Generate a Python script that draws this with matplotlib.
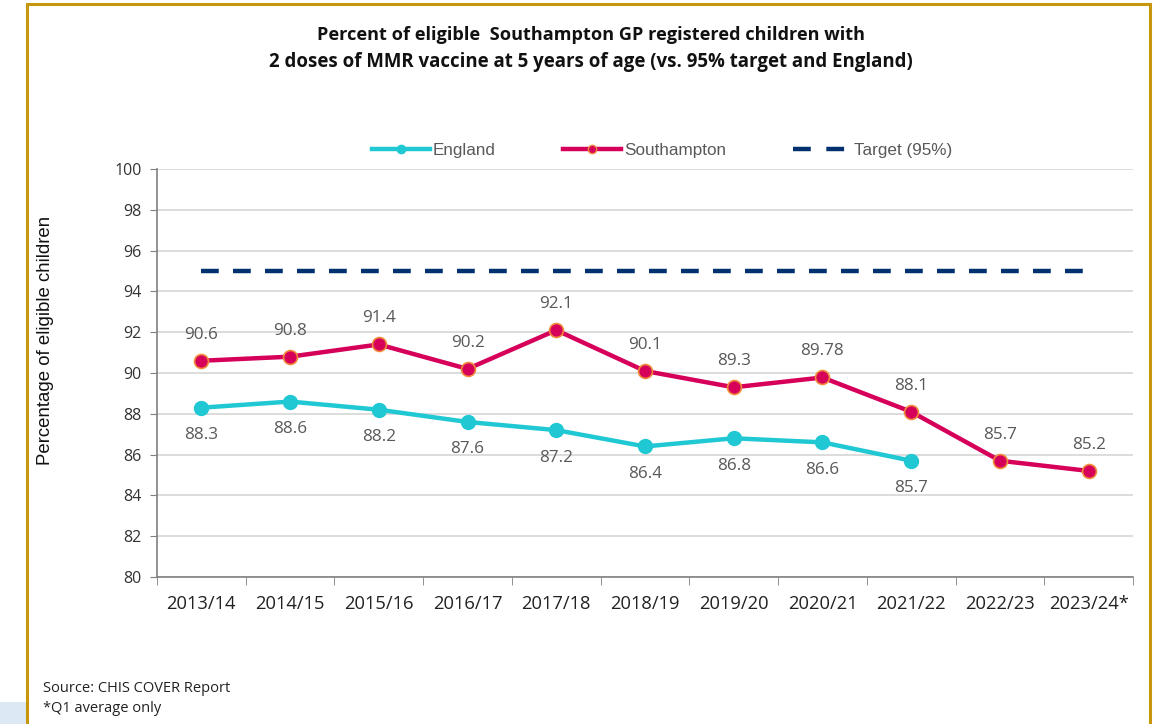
import matplotlib.pyplot as plt
from matplotlib.lines import Line2D
from matplotlib.patches import Rectangle

years = ['2013/14', '2014/15', '2015/16', '2016/17', '2017/18', '2018/19',
         '2019/20', '2020/21', '2021/22', '2022/23', '2023/24*']
england = [88.3, 88.6, 88.2, 87.6, 87.2, 86.4, 86.8, 86.6, 85.7]
southampton = [90.6, 90.8, 91.4, 90.2, 92.1, 90.1, 89.3, 89.78, 88.1, 85.7, 85.2]
target = 95
y_ticks = list(range(80, 101, 2))

CYAN = '#20C8D4'
PINK = '#D6005A'
NAVY = '#00306E'
TXT = '#595959'

fig = plt.figure(figsize=(11.6, 7.24), dpi=100)
W, H = 1160, 724

# frame and light blue strip, like the report page
fig.patches.append(Rectangle((0, 0), 27 / W, 22 / H, transform=fig.transFigure,
                             facecolor='#DCE9F5', edgecolor='none', zorder=0))
fig.patches.append(Rectangle((27 / W, -0.05), (1150 - 27) / W, 1.05 - 4 / H,
                             transform=fig.transFigure, facecolor='none',
                             edgecolor='#C8960A', linewidth=2.2, zorder=1))

ax = fig.add_axes([157 / W, 1 - 577 / H, (1133 - 157) / W, (577 - 169) / H])
x = list(range(len(years)))

ax.plot(x, [target] * len(years), color=NAVY, linewidth=3.2,
        dashes=(4, 3.2), zorder=3)
ax.plot(x[:len(england)], england, color=CYAN, linewidth=3.2, marker='o',
        markersize=10, markerfacecolor=CYAN, markeredgecolor=CYAN, zorder=4)
ax.plot(x, southampton, color=PINK, linewidth=3.2, marker='o', markersize=10,
        markerfacecolor=PINK, markeredgecolor='#F08A3C', markeredgewidth=1.2,
        zorder=5)

lab_font = dict(family='Open Sans', fontsize=12.3, color=TXT, ha='center')
for i, v in enumerate(southampton):
    ax.annotate(f'{v:g}', (i, v), xytext=(0, 13), textcoords='offset points',
                va='bottom', **lab_font)
for i, v in enumerate(england):
    ax.annotate(f'{v:g}', (i, v), xytext=(0, -14), textcoords='offset points',
                va='top', **lab_font)

ax.set_xlim(-0.5, len(years) - 0.5)
ax.set_ylim(80, 100)
ax.set_yticks(y_ticks)
ax.set_yticklabels([str(t) for t in y_ticks], family='Open Sans', fontsize=11.5,
                   color='#333333')
ax.set_xticks(x)
ax.set_xticklabels(years, family='Open Sans', fontsize=13.2, color='#222222')
ax.set_xticks([i + 0.5 for i in range(-1, len(years))], minor=True)
ax.tick_params(axis='x', which='major', length=0, pad=13)
ax.tick_params(axis='x', which='minor', length=6, color='#808080', direction='out')
ax.tick_params(axis='y', length=5, color='#808080', direction='out', pad=6)
ax.grid(axis='y', color='#D9D9D9', linewidth=1.3)
ax.set_axisbelow(True)
for s in ['top', 'right']:
    ax.spines[s].set_visible(False)
for s in ['left', 'bottom']:
    ax.spines[s].set_color('#808080')
    ax.spines[s].set_linewidth(1.2)

ax.set_ylabel('Percentage of eligible children', family='Liberation Sans',
              fontsize=13.4, color='#111111')
ax.yaxis.set_label_coords((54 - 157) / 976, (577 - 340) / 408)

fig.text(591 / W, 1 - 35 / H, 'Percent of eligible  Southampton GP registered children with',
         ha='center', va='center', family='Open Sans', fontweight='bold',
         fontsize=13.1, color='#111111')
fig.text(591 / W, 1 - 62 / H, '2 doses of MMR vaccine at 5 years of age (vs. 95% target and England)',
         ha='center', va='center', family='Open Sans', fontweight='bold',
         fontsize=13.4, color='#111111')

handles = [
    Line2D([], [], color=CYAN, linewidth=3.2, marker='o', markersize=6,
           markerfacecolor=CYAN, markeredgecolor=CYAN),
    Line2D([], [], color=PINK, linewidth=3.2, marker='o', markersize=6,
           markerfacecolor=PINK, markeredgecolor='#F08A3C'),
    Line2D([], [], color=NAVY, linewidth=3.2, dashes=(4, 3.5)),
]
fig.legend(handles, ['England', 'Southampton', 'Target (95%)'], loc='center',
           bbox_to_anchor=(662 / W, 1 - 150 / H), ncol=3, frameon=False,
           handlelength=3.4, handletextpad=0.2, columnspacing=3.9,
           prop=dict(family='Liberation Sans', size=12.3), labelcolor=TXT)

fig.text(43 / W, 1 - 689 / H, 'Source: CHIS COVER Report', family='Open Sans',
         fontsize=10.5, color='#222222', va='center')
fig.text(43 / W, 1 - 708 / H, '*Q1 average only', family='Open Sans',
         fontsize=10.5, color='#222222', va='center')

fig.savefig('out.png', dpi=100)
